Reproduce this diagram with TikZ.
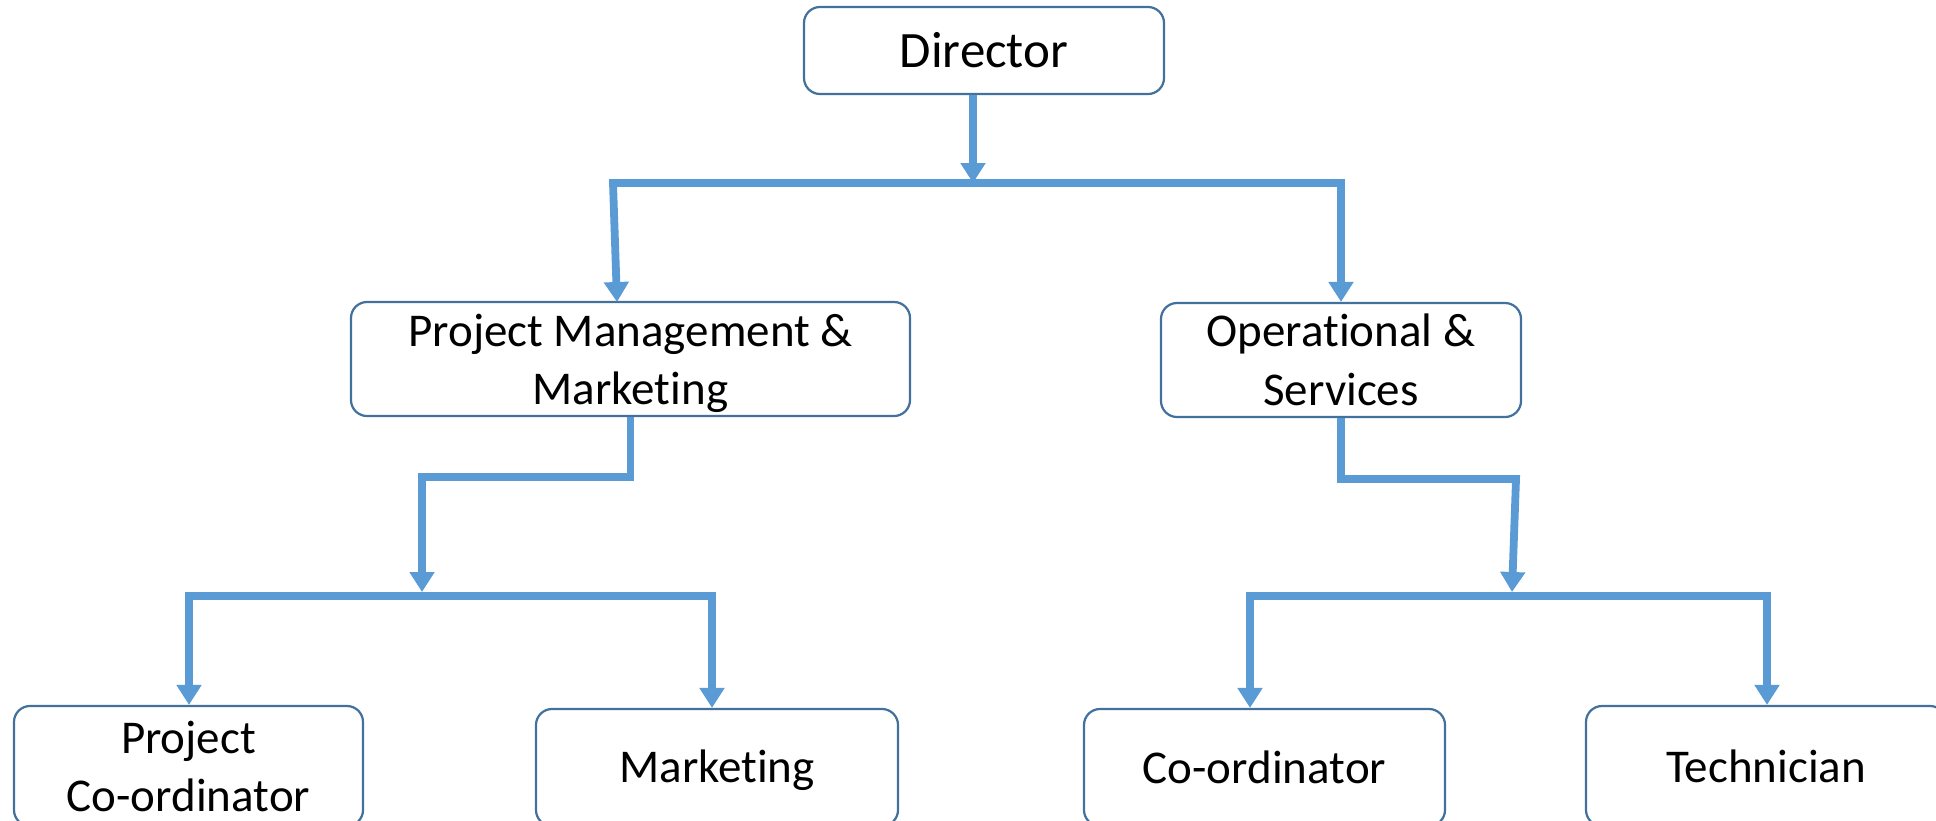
\documentclass[tikz,border=0pt]{standalone}
\usepackage{fontspec}
\setmainfont[Ligatures=NoCommon]{Carlito}
\usetikzlibrary{arrows.meta}
\definecolor{connc}{HTML}{5B9BD5}
\definecolor{edgec}{HTML}{41719C}
\begin{document}
\begin{tikzpicture}[x=0.5pt,y=-0.5pt,
  box/.style={draw=edgec, line width=1.1pt, rounded corners=8pt, fill=white,
    align=center, inner sep=0pt, font=\fontsize{23.5}{29}\selectfont},
  link/.style={draw=connc, line width=3.9pt},
  arr/.style={link, -{Triangle[width=12pt,length=10pt]}},
  barline/.style={link, line cap=rect}]
\useasboundingbox (0,0) rectangle (1936,820);
\clip (0,0) rectangle (1936,820);
\fill[white] (0,0) rectangle (1936,820);

% boxes
\node[box, minimum width=180pt, minimum height=43.5pt, font=\fontsize{25.5}{31}\selectfont] (dir) at (984,50.5) {Director};
\node[box, minimum width=279.5pt, minimum height=57pt, text depth=0pt] (pm) at (630.5,359) {Project Management \&\\Marketing};
\node[box, minimum width=180pt, minimum height=57pt, font=\fontsize{23.5}{29.5}\selectfont] (ops) at (1341,360) {Operational \&\\Services};
\node[box, minimum width=174.5pt, minimum height=60pt] (pc) at (188.5,766) {Project\\Co-ordinator};
\node[box, minimum width=181pt, minimum height=58.5pt, text depth=1pt] (mk) at (717,767.5) {Marketing};
\node[box, minimum width=180.5pt, minimum height=58.5pt] (co) at (1264.5,767.5) {Co-ordinator};
\node[box, minimum width=180pt, minimum height=60pt] (te) at (1766,766) {Technician};

% junction points
\coordinate (j1) at (973,183);
\coordinate (j1L) at (613,183);
\coordinate (j1R) at (1341,183);
\coordinate (pmIn) at (617,302);
\coordinate (k1) at (630.5,477);
\coordinate (k2) at (422,477);
\coordinate (j2) at (422,592);
\coordinate (j2L) at (189,596);
\coordinate (j2R) at (712,596);
\coordinate (m1) at (1341,479);
\coordinate (m2) at (1516,479);
\coordinate (j3) at (1512,592);
\coordinate (j3L) at (1250,596);
\coordinate (j3R) at (1767,596);

% level 1
\draw[arr] (dir.south -| j1) -- (j1);
\draw[barline] (j1L) -- (j1R);
\draw[arr] (j1L) -- (pmIn);
\draw[arr] (j1R) -- (ops.north);

% left branch
\draw[arr] (pm.south) -- (k1) -- (k2) -- (j2);
\draw[barline] (j2L) -- (j2R);
\draw[arr] (j2L) -- (pc.north -| j2L);
\draw[arr] (j2R) -- (mk.north -| j2R);

% right branch
\draw[arr] (ops.south) -- (m1) -- (m2) -- (j3);
\draw[barline] (j3L) -- (j3R);
\draw[arr] (j3L) -- (co.north -| j3L);
\draw[arr] (j3R) -- (te.north -| j3R);
\end{tikzpicture}
\end{document}
